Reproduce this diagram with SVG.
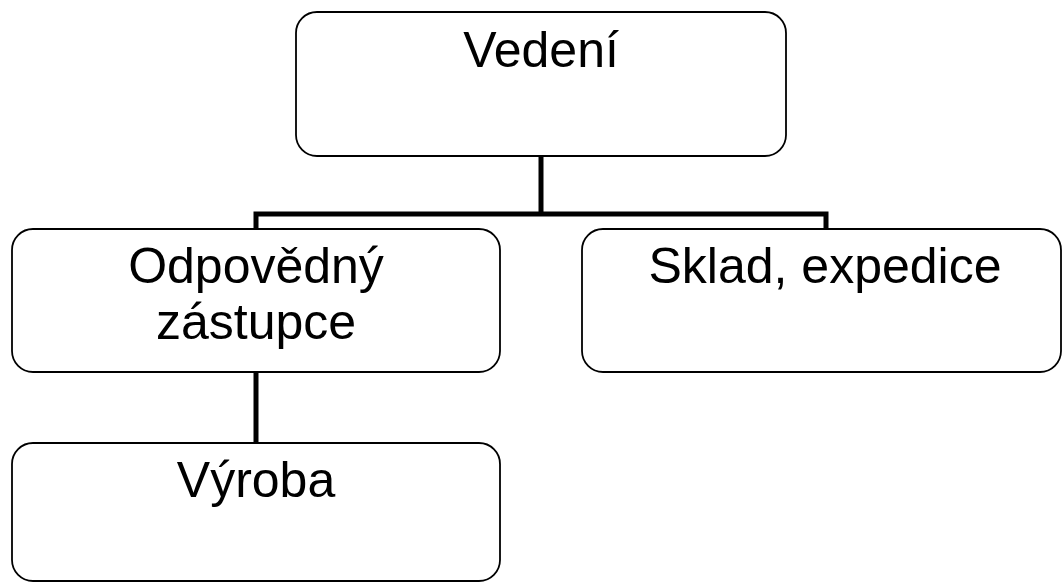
<svg xmlns="http://www.w3.org/2000/svg" width="1062" height="583" viewBox="0 0 1062 583">
  <style>
    .box { fill: #ffffff; stroke: #000000; stroke-width: 1.8; }
    .conn { fill: none; stroke: #000000; stroke-width: 5; stroke-linejoin: miter; stroke-linecap: butt; }
    .lbl { font-family: "Liberation Sans", Arial, sans-serif; font-size: 50px; fill: #000000; text-anchor: middle; }
  </style>
  <rect width="1062" height="583" fill="#ffffff"/>
  <g id="connectors">
    <path class="conn" d="M541 156 V214"/>
    <path class="conn" d="M256 229 V214 H826 V229"/>
    <path class="conn" d="M256 372 V443"/>
  </g>
  <g id="node-vedeni">
    <rect class="box" x="296" y="12" width="490" height="144" rx="21" ry="21"/>
    <text class="lbl" x="541" y="67">Vedení</text>
  </g>
  <g id="node-zastupce">
    <rect class="box" x="12" y="229" width="488" height="143" rx="21" ry="21"/>
    <text class="lbl" x="256" y="283">Odpovědný</text>
    <text class="lbl" x="256" y="339">zástupce</text>
  </g>
  <g id="node-sklad">
    <rect class="box" x="582" y="229" width="479" height="143" rx="21" ry="21"/>
    <text class="lbl" x="825" y="283">Sklad, expedice</text>
  </g>
  <g id="node-vyroba">
    <rect class="box" x="12" y="443" width="488" height="138" rx="21" ry="21"/>
    <text class="lbl" x="256" y="497">Výroba</text>
  </g>
</svg>
